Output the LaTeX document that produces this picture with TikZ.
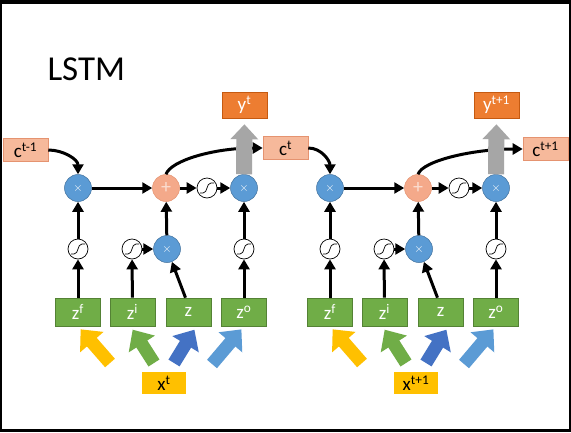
\documentclass[tikz,border=0pt]{standalone}
\usepackage{fontspec}
\setmainfont{Carlito}
\usetikzlibrary{arrows.meta}
\definecolor{cfill}{HTML}{F6B99B}
\definecolor{cdraw}{HTML}{E59370}
\definecolor{yfill}{HTML}{ED7D31}
\definecolor{ydraw}{HTML}{C55A11}
\definecolor{zfill}{HTML}{70AD47}
\definecolor{zdraw}{HTML}{548235}
\definecolor{xfill}{HTML}{FFC000}
\definecolor{mfill}{HTML}{5B9BD5}
\definecolor{mdraw}{HTML}{41719C}
\definecolor{pfill}{HTML}{F4A98A}
\definecolor{ablue}{HTML}{4472C4}
\definecolor{agray}{HTML}{A6A6A6}

\begin{document}
\begin{tikzpicture}[x=1pt, y=-1pt, every node/.style={font=\fontsize{19}{22}\selectfont},
	arr/.style={line width=3pt, -{Triangle[length=10pt,width=11pt]}},
	fat/.style={line width=13pt, -{Triangle[length=17pt,width=30pt]}, shorten >=4pt},
	bx/.style={minimum width=45pt, inner sep=0pt, line width=0.6pt},
	cbox/.style={bx, fill=cfill, draw=cdraw, minimum height=23pt},
	ybox/.style={bx, fill=yfill, draw=ydraw, text=white, minimum height=26pt},
	zbox/.style={bx, fill=zfill, draw=zdraw, text=white, minimum height=28pt},
	xbox/.style={bx, fill=xfill, minimum width=44pt, minimum height=22pt},
	mul/.style={circle, fill=mfill, draw=mdraw, line width=0.5pt, minimum size=27pt, inner sep=0pt, text=white, font=\fontsize{13}{13}\selectfont},
	plus/.style={mul, fill=pfill, draw=cdraw, text=white!60!pfill, font=\fontsize{20}{20}\selectfont},
	sig/.style={circle, draw, fill=white, line width=0.7pt, minimum size=20pt, inner sep=0pt,
		path picture={\draw[line width=0.7pt] ([shift={(-7pt,-5pt)}]path picture bounding box.center) -- ([shift={(-4pt,-5pt)}]path picture bounding box.center) .. controls ([shift={(1pt,-5pt)}]path picture bounding box.center) and ([shift={(-1pt,5pt)}]path picture bounding box.center) .. ([shift={(4pt,5pt)}]path picture bounding box.center) -- ([shift={(7pt,5pt)}]path picture bounding box.center);}}]
	% frame of the screenshot
	\fill (0,0) rectangle (571,432);
	\fill[white] (2,4) rectangle (569,429);
	\node[anchor=base west, font=\fontsize{35}{38}\selectfont] (title) at (44,80) {LSTM};
	% memory cells
	\node[cbox] (c0) at (25.5,150) {c\textsuperscript{t-1}};
	\node[cbox] (c1) at (285.5,148) {c\textsuperscript{t}};
	\node[cbox] (c2) at (545.5,149) {c\textsuperscript{t+1}};
	\foreach \i/\j/\dx/\ts in {0/1/0/t, 1/2/252/t+1} {
		\node[mul] (mf\i) at (\dx+78,188) {$\times$};
		\node[plus] (add\i) at (\dx+166,188) {+};
		\node[sig] (st\i) at (\dx+207,188) {};
		\node[mul] (mo\i) at (\dx+244,188) {$\times$};
		\node[sig] (sf\i) at (\dx+78,249) {};
		\node[sig] (si\i) at (\dx+132,249) {};
		\node[mul] (mi\i) at (\dx+167,249) {$\times$};
		\node[sig] (so\i) at (\dx+244,249) {};
		\node[zbox] (zf\i) at (\dx+78,312) {z\textsuperscript{f}};
		\node[zbox] (zi\i) at (\dx+132.5,312) {z\textsuperscript{i}};
		\node[zbox] (z\i) at (\dx+188.5,312) {z};
		\node[zbox] (zo\i) at (\dx+244,312) {z\textsuperscript{o}};
		\node[xbox] (x\i) at (\dx+164,383) {x\textsuperscript{\ts}};
		\node[ybox] (y\i) at (\dx+244.5,105) {y\textsuperscript{\ts}};
		\coordinate (tailf\i) at (\dx+110,363);
		\coordinate (taili\i) at (\dx+154,363);
		\coordinate (tailz\i) at (\dx+174,363);
		\coordinate (tailo\i) at (\dx+212,364);
		\draw[arr] (c\i.east) to[out=0, in=90] (mf\i.north);
		\draw[arr] (mf\i) -- (add\i);
		\draw[arr] (add\i) -- (st\i);
		\draw[arr] (st\i) -- (mo\i);
		\draw[arr] (add\i.north) .. controls +(5,-14) and +(-48,0) .. (c\j.west);
		\draw[agray, line width=16pt, -{Triangle[length=15pt,width=27pt]}, shorten >=6pt] (mo\i.north) -- (y\i.south);
		\draw[arr] (sf\i) -- (mf\i);
		\draw[arr] (zf\i) -- (sf\i);
		\draw[arr] (zi\i) -- (si\i);
		\draw[arr] (si\i) -- (mi\i);
		\draw[arr] ([xshift=-3pt]z\i.north) -- (mi\i);
		\draw[arr] (mi\i) -- (add\i);
		\draw[arr] (zo\i) -- (so\i);
		\draw[arr] (so\i) -- (mo\i);
		\draw[fat, xfill] (tailf\i) -- (zf\i.south);
		\draw[fat, zfill] (taili\i) -- ([xshift=-2pt]zi\i.south);
		\draw[fat, ablue] (tailz\i) -- ([xshift=8pt]z\i.south);
		\draw[fat, mfill] (tailo\i) -- (zo\i.south);
	}
\end{tikzpicture}
\end{document}
